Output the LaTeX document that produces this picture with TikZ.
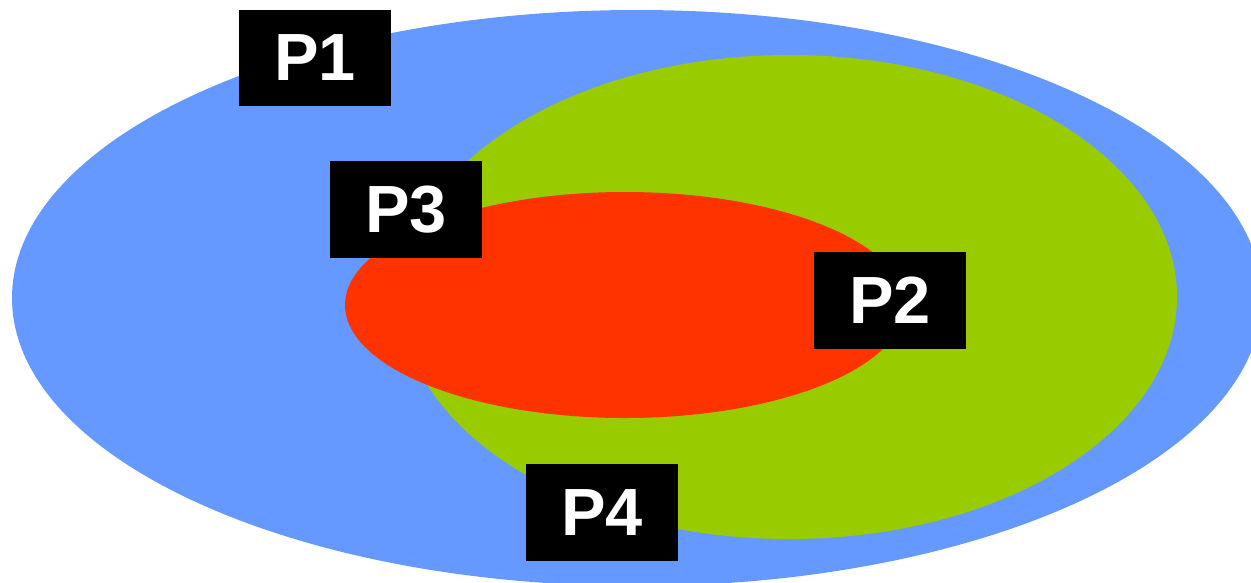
\documentclass[tikz,border=0pt]{standalone}
\usepackage{fontspec}
\setmainfont{Liberation Sans}
\usepackage{tikz}
\usepackage{xcolor}
\definecolor{setblue}{HTML}{6699FF}
\definecolor{setgreen}{HTML}{99CC00}
\definecolor{setred}{HTML}{FF3300}

\begin{document}
\begin{tikzpicture}[x=0.02cm, y=-0.02cm,
    pbox/.style={fill=black, text=white, rectangle, inner sep=0pt,
      minimum width=3.04cm, minimum height=1.94cm,
      font=\fontsize{38}{40}\selectfont\bfseries}]
            \clip (0,0) rectangle (1251,582);
            % Ellipses
            \fill[setblue] (637,298) ellipse [x radius=625, y radius=288];
            \fill[setgreen] (789,297) ellipse [x radius=388, y radius=242];
            \fill[setred] (625,305) ellipse [x radius=280, y radius=113];
            % Labels
            \node[pbox] (p1) at (315,58) {P1};
            \node[pbox] (p3) at (406,209.5) {P3};
            \node[pbox] (p2) at (890,300.5) {P2};
            \node[pbox] (p4) at (602,512.5) {P4};
        \end{tikzpicture}
\end{document}
